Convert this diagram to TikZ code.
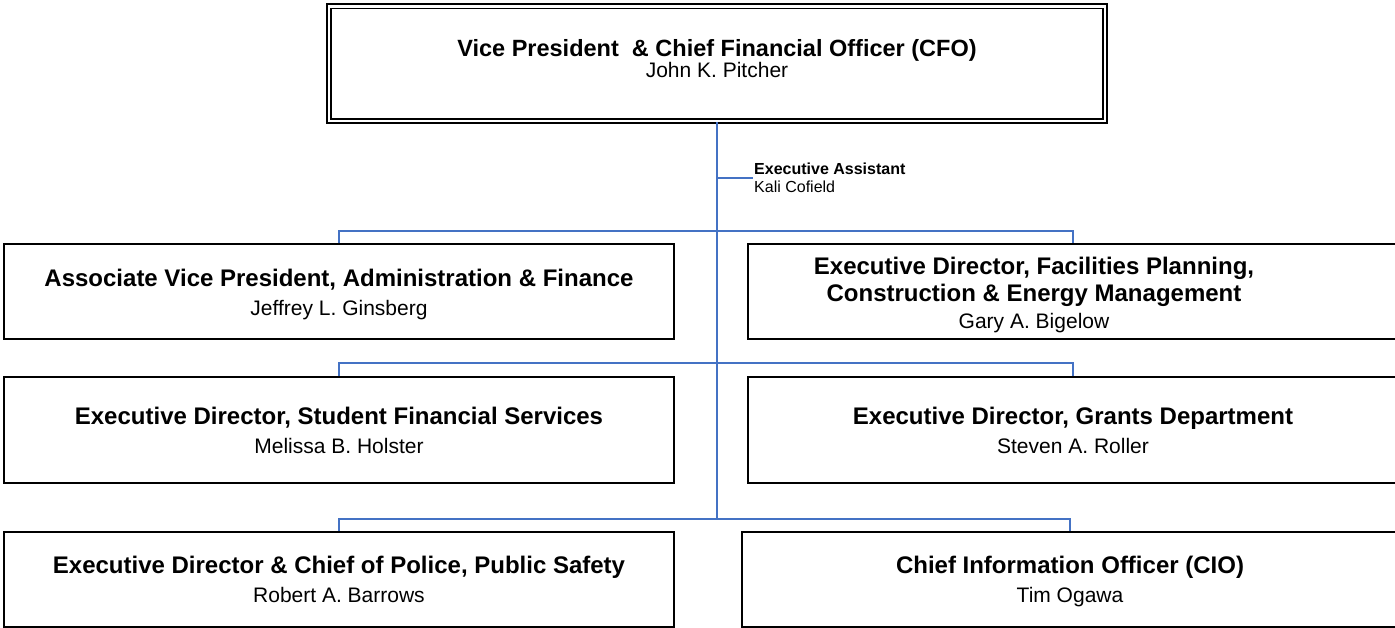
\documentclass[tikz,border=0pt]{standalone}
\usepackage{fontspec}
\setmainfont{Liberation Sans}
\definecolor{linkblue}{HTML}{4472C4}
\newcommand{\who}[1]{{\mdseries\fontsize{21}{29}\selectfont #1}}

\begin{document}
\begin{tikzpicture}[x=1pt,y=-1pt,
  box/.style={draw,line width=2pt,align=center,inner sep=0pt,text depth=0pt,font=\bfseries\fontsize{24}{29}\selectfont},
  link/.style={draw=linkblue,line width=2pt}]
\useasboundingbox (0,0) rectangle (1395,628);

% boxes
\node[box,double,line width=1.8pt,double distance=2.4pt,minimum width=776pt,minimum height=114.5pt,text depth=10pt,font=\bfseries\fontsize{23.5}{20}\selectfont] (vp) at (717,63.75) {Vice President \ \& Chief Financial Officer (CFO)\\\who{John K. Pitcher}};
\node[box,minimum width=670pt,minimum height=95pt] (adm) at (339,292) {Associate Vice President, Administration \& Finance\\\who{Jeffrey L. Ginsberg}};
\node[box,minimum width=650pt,minimum height=95pt] (fac) at (1073,291.5) {};
\node[align=center,inner sep=0pt,font=\bfseries\fontsize{24}{27}\selectfont] (factext) at (1034,295) {Executive Director, Facilities Planning,\\Construction \& Energy Management\\\who{Gary A. Bigelow}};
\node[box,minimum width=670pt,minimum height=106pt] (sfs) at (339,430) {Executive Director, Student Financial Services\\\who{Melissa B. Holster}};
\node[box,minimum width=650pt,minimum height=106pt] (grants) at (1073,430) {Executive Director, Grants Department\\\who{Steven A. Roller}};
\node[box,minimum width=670pt,minimum height=95pt] (police) at (339,579.5) {Executive Director \& Chief of Police, Public Safety\\\who{Robert A. Barrows}};
\node[box,minimum width=656pt,minimum height=95pt] (cio) at (1070,579.5) {Chief Information Officer (CIO)\\\who{Tim Ogawa}};
\node[anchor=west,align=left,inner sep=1pt,font=\fontsize{16}{18.5}\selectfont] (ea) at (753,178) {\textbf{Executive Assistant}\\Kali Cofield};

% connectors
\coordinate (bus3) at ([yshift=12pt]police.north);
\draw[link] (vp.south) -- (vp.south |- bus3);
\draw[link] (vp.south |- ea.west) -- (ea.west);
\draw[link] (adm.north) -- ([yshift=12pt]adm.north) -| (fac.north);
\draw[link] (sfs.north) -- ([yshift=13pt]sfs.north) -| (grants.north);
\draw[link] (police.north) -- (bus3) -| (cio.north);
\end{tikzpicture}
\end{document}
